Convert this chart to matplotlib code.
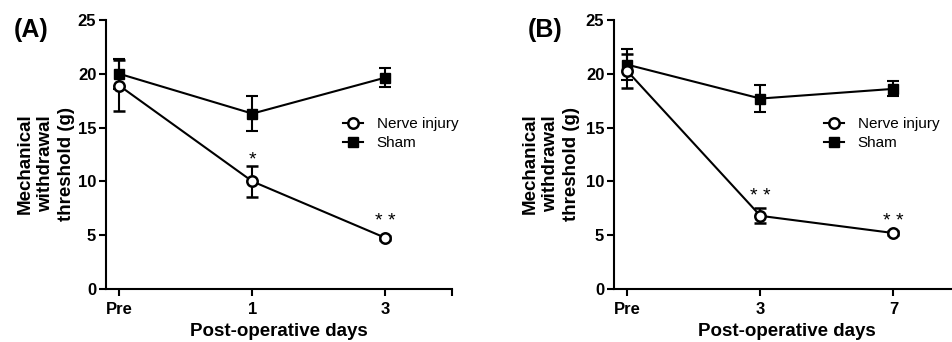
import matplotlib
matplotlib.use("Agg")
import matplotlib.pyplot as plt
from matplotlib.lines import Line2D
import numpy as np

plt.rcParams['font.family'] = ['Liberation Sans', 'DejaVu Sans']

# Panel A: Pre, day 1, day 3
days_a = ['Pre', '1', '3']
nerve_a = [18.9, 10.0, 4.75]
nerve_a_err = [2.4, 1.45, 0.2]
sham_a = [20.0, 16.3, 19.65]
sham_a_err = [1.4, 1.6, 0.9]
stars_a = ['', '*', '* *']
star_y_a = [0, 11.6, 5.9]

# Panel B: Pre, day 3, day 7
days_b = ['Pre', '3', '7']
nerve_b = [20.25, 6.8, 5.2]
nerve_b_err = [1.6, 0.7, 0.2]
sham_b = [20.85, 17.7, 18.6]
sham_b_err = [1.45, 1.25, 0.7]
stars_b = ['', '* *', '* *']
star_y_b = [0, 8.2, 5.9]

W, H = 952, 342
fig = plt.figure(figsize=(W / 100, H / 100), dpi=100)

nerve_style = dict(color='black', lw=1.5, marker='o', ms=7.5,
                   mfc='white', mec='black', mew=1.8)
sham_style = dict(color='black', lw=1.5, marker='s', ms=7.5,
                  mfc='black', mec='black')


def panel(left, days, nerve, nerve_err, sham, sham_err, stars, star_y,
          tag, tag_x, leg_x, ylab_x):
    ax = fig.add_axes([left / W, (H - 289) / H, 346 / W, 269 / H])
    x = np.arange(len(days))
    ax.errorbar(x, sham, yerr=sham_err, capsize=4, capthick=1.5,
                elinewidth=1.5, zorder=3, **sham_style)
    ax.errorbar(x, nerve, yerr=nerve_err, capsize=4, capthick=1.5,
                elinewidth=1.5, zorder=4, **nerve_style)
    for xi, s, yy in zip(x, stars, star_y):
        if s:
            ax.text(xi, yy, s, ha='center', va='baseline', fontsize=14)

    ax.set_xlim(-0.1, 2.5)
    ax.set_ylim(0, 25)
    ax.set_xticks(list(x) + [2.5])
    ax.set_xticklabels(days + [''], fontsize=12, fontweight='bold')
    ax.set_yticks([0, 5, 10, 15, 20, 25])
    ax.set_yticklabels(['0', '5', '10', '15', '20', '25'], fontsize=12, fontweight='bold')
    ax.tick_params(width=1.5, length=5, pad=2)
    ax.tick_params(axis='x', pad=4)
    for sp in ['top', 'right']:
        ax.spines[sp].set_visible(False)
    for sp in ['left', 'bottom']:
        ax.spines[sp].set_linewidth(1.5)

    handles = [Line2D([], [], **nerve_style), Line2D([], [], **sham_style)]
    ax.legend(handles, ['Nerve injury', 'Sham'], loc='upper left',
              bbox_to_anchor=((leg_x - left) / 346, (289 - 117) / 269),
              frameon=False, fontsize=11, handlelength=1.3, handletextpad=0.9,
              borderpad=0, borderaxespad=0, labelspacing=0.35)

    fig.text(ylab_x / W, 1 - 164 / H, 'Mechanical\nwithdrawal\nthreshold (g)',
             rotation=90, ha='center', va='center', multialignment='center',
             fontsize=13.5, fontweight='bold', linespacing=1.3)
    fig.text((left + 173) / W, 1 - 332 / H, 'Post-operative days',
             ha='center', va='center', fontsize=13.5, fontweight='bold')
    fig.text(tag_x / W, 1 - 30 / H, tag, ha='left', va='center',
             fontsize=18, fontweight='bold')
    return ax


panel(106, days_a, nerve_a, nerve_a_err, sham_a, sham_a_err, stars_a, star_y_a,
      '(A)', 14, 343, 46)
panel(614, days_b, nerve_b, nerve_b_err, sham_b, sham_b_err, stars_b, star_y_b,
      '(B)', 528, 824, 551)

fig.savefig('out.png', dpi=100)
